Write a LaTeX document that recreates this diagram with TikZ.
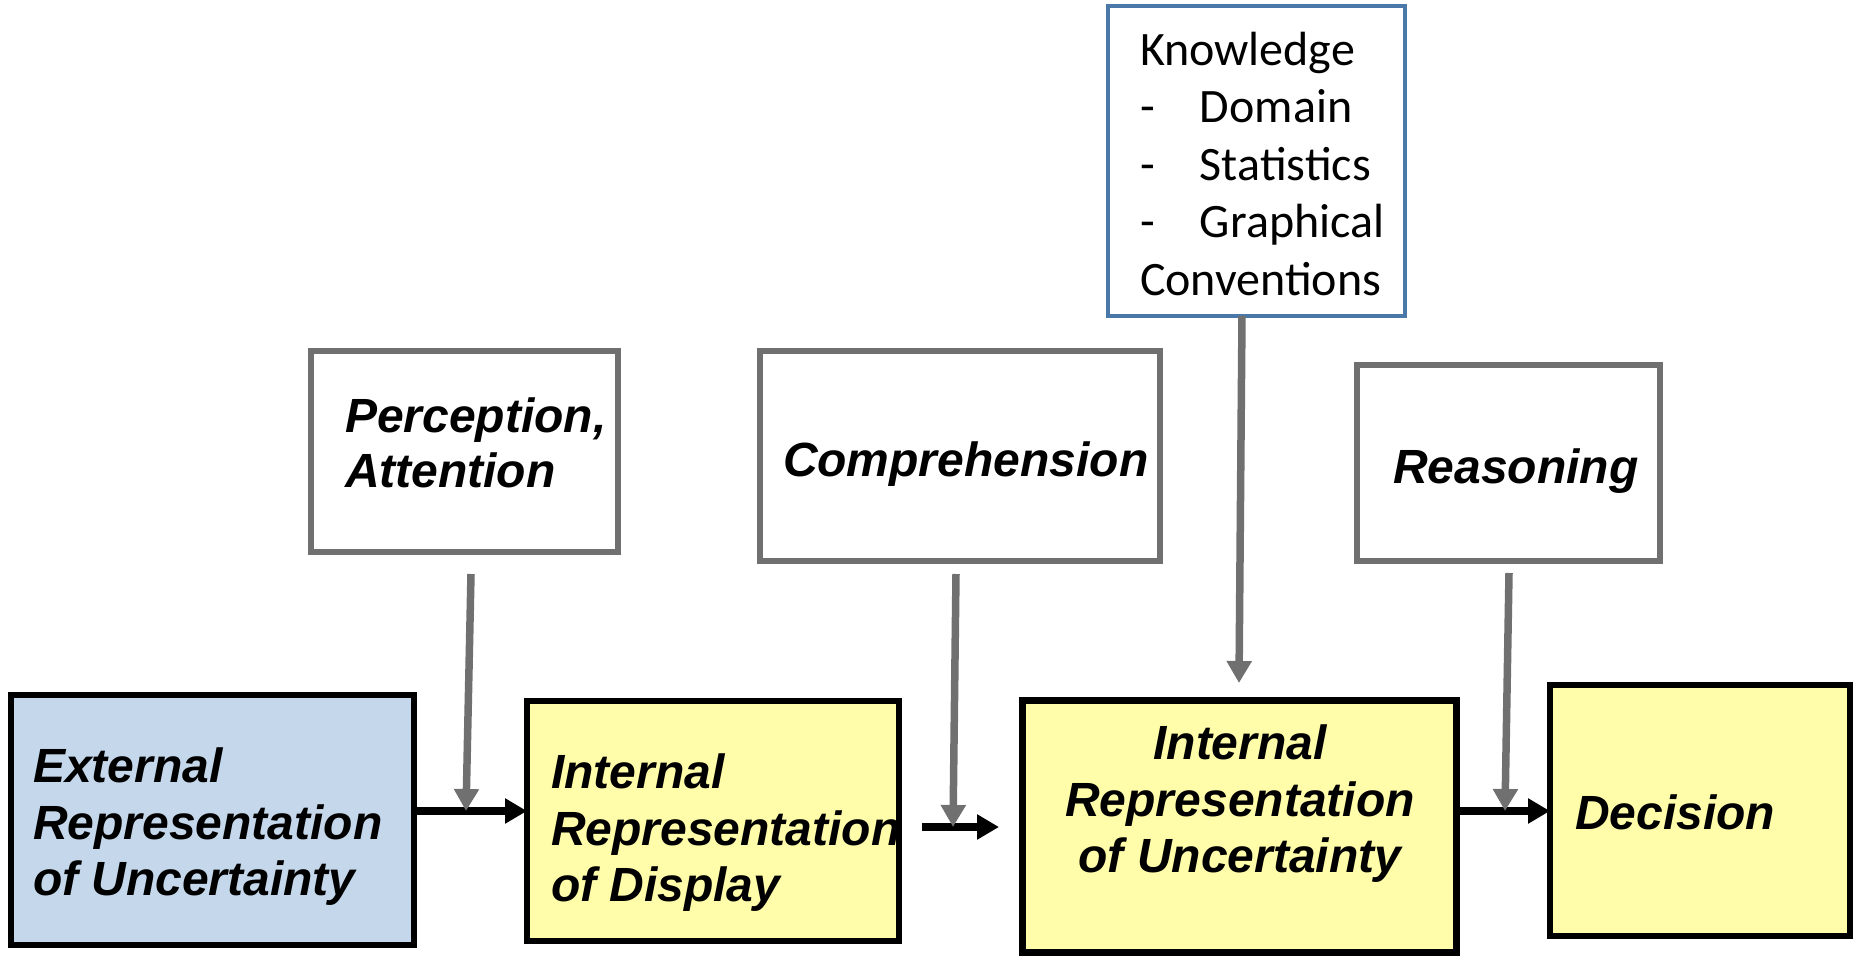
\documentclass[tikz,border=0pt]{standalone}
\usepackage{fontspec}
\usetikzlibrary{arrows.meta,calc}
\newfontfamily\labelfont{Liberation Sans}
\newfontfamily\knowfont{Carlito}
\definecolor{extblue}{HTML}{C5D8EB}
\definecolor{intyellow}{HTML}{FFFDA9}
\definecolor{stepgray}{HTML}{707070}
\definecolor{knowblue}{HTML}{4A78A8}
\tikzset{
  stagebox/.style={draw=black, line width=5.5pt, anchor=north west, inner sep=0pt, outer sep=0pt},
  procbox/.style={draw=stepgray, line width=6.5pt, fill=white, anchor=north west, inner sep=0pt, outer sep=0pt},
  knowbox/.style={draw=knowblue, line width=4pt, fill=white, anchor=north west, inner sep=0pt, outer sep=0pt},
  boldlabel/.style={inner sep=0pt, outer sep=0pt, align=left,
    font=\labelfont\bfseries\itshape\fontsize{48}{56.5}\selectfont},
  knowlabel/.style={inner sep=0pt, outer sep=0pt, align=left, anchor=north west,
    font=\knowfont\fontsize{48}{57.5}\selectfont},
  flowarrow/.style={draw=black, line width=7.5pt, -{Triangle[length=22pt,width=24pt]}},
  feedarrow/.style={draw=stepgray, line width=7.5pt, -{Triangle[length=22pt,width=24pt]}},
}
\newcommand{\itemdash}{\makebox[60pt][l]{-}}
\begin{document}
\begin{tikzpicture}[x=1pt,y=-1pt]
\useasboundingbox (0,0) rectangle (1853,956);

% main stages
\node[stagebox, fill=extblue, minimum width=403pt, minimum height=250pt] (ext) at (11,695) {};
\node[stagebox, fill=intyellow, minimum width=372pt, minimum height=240pt] (disp) at (527,701) {};
\node[stagebox, fill=intyellow, line width=7pt, minimum width=434pt, minimum height=252pt] (unc) at (1022,700) {};
\node[stagebox, fill=intyellow, minimum width=300pt, minimum height=251pt] (dec) at (1550,685) {};

% processes
\node[procbox, minimum width=307pt, minimum height=201pt] (perc) at (311,351) {};
\node[procbox, minimum width=400pt, minimum height=210pt] (comp) at (760,351) {};
\node[procbox, minimum width=303pt, minimum height=196pt] (reas) at (1357,365) {};
\node[knowbox, minimum width=297pt, minimum height=310pt] (know) at (1108,6) {};

% stage texts
\node[boldlabel, anchor=north west] (extT) at (33,743) {\strut External\\Representation\\of Uncertainty};
\node[boldlabel, anchor=north west] (dispT) at (551,749) {\strut Internal\\Representation\\of Display};
\node[boldlabel, anchor=north, align=center] (uncT) at (1240,720) {\strut Internal\\Representation\\of Uncertainty};
\node[boldlabel, anchor=north west] (decT) at (1575,790) {\strut Decision};

% process texts
\node[boldlabel, anchor=north west, font=\labelfont\bfseries\itshape\fontsize{48}{55}\selectfont] (percT) at (345,394) {\strut Perception,\\Attention};
\node[boldlabel, anchor=north west] (compT) at (783,437) {\strut Comprehension};
\node[boldlabel, anchor=north west] (reasT) at (1393,444) {\strut Reasoning};
\node[knowlabel] (knowT) at (1140,25) {\strut Knowledge\\\itemdash Domain\\\itemdash Statistics\\\itemdash Graphical\\Conventions};

% connector end points
\coordinate (percTop) at (471,574);
\coordinate (percTip) at (466,811);
\coordinate (compTop) at (956,574);
\coordinate (compTip) at (953,827);
\coordinate (knowTop) at (1242,316);
\coordinate (knowTip) at (1239,683);
\coordinate (reasTop) at (1509,573);
\coordinate (reasTip) at (1505,811);
\coordinate (midStart) at (922,827);
\coordinate (midEnd) at (999,827);

% main flow
\draw[flowarrow] ([yshift=9pt]ext.east) -- ([yshift=9pt]ext.east -| disp.west);
\draw[flowarrow] (midStart) -- (midEnd);
\draw[flowarrow] ([yshift=15pt]unc.east) -- ([yshift=15pt]unc.east -| dec.west);

% process inputs
\draw[feedarrow] (percTop) -- (percTip);
\draw[feedarrow] (compTop) -- (compTip);
\draw[feedarrow] (knowTop) -- (knowTip);
\draw[feedarrow] (reasTop) -- (reasTip);
\end{tikzpicture}
\end{document}
